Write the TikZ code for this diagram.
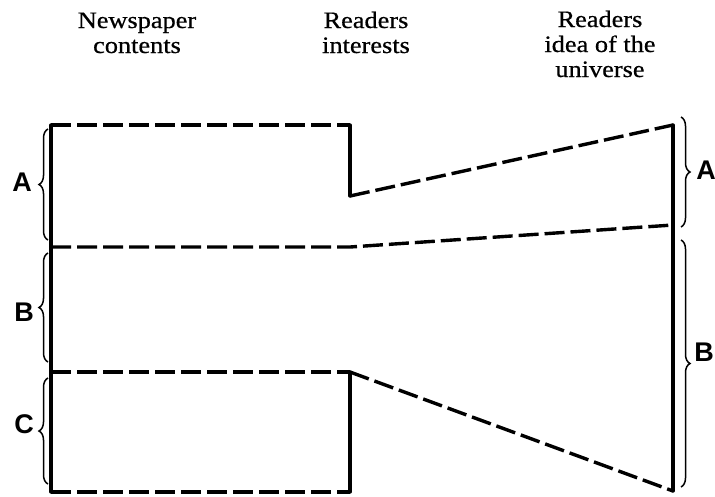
\documentclass[tikz,border=0pt]{standalone}
\usepackage{fontspec}
\usetikzlibrary{decorations.pathreplacing}
\newfontfamily\lettfont{Liberation Sans}
\newfontfamily\hdrfont{Liberation Serif}[FakeStretch=1.12,FakeBold=0.6]
\begin{document}
\begin{tikzpicture}[x=1pt,y=-1pt,
  solidline/.style={line width=3.4pt,line cap=round},
  dashline/.style={line width=3.4pt,dash pattern=on 20pt off 6pt},
  bracestyle/.style={decorate,decoration={brace,amplitude=9pt,aspect=0.5},line width=1.5pt},
  header/.style={anchor=base,inner sep=0pt,font=\hdrfont\fontsize{23.5}{25}\selectfont},
  letter/.style={inner sep=0pt,font=\lettfont\bfseries\fontsize{27}{27}\selectfont}]
\useasboundingbox[fill=white] (0,0) rectangle (715,496);
% corners
\coordinate (L1) at (51,125);
\coordinate (L2) at (51,247);
\coordinate (L3) at (51,372);
\coordinate (L4) at (51,492);
\coordinate (M1) at (350,125);
\coordinate (M1b) at (350,196);
\coordinate (M2) at (350,247);
\coordinate (M3) at (350,372);
\coordinate (M4) at (350,492);
\coordinate (R1) at (673,125);
\coordinate (R2) at (673,225);
\coordinate (R4) at (673,491);
% solid lines
\draw[solidline] (L1) -- (L4);
\draw[solidline] (M1) -- (M1b);
\draw[solidline] (M3) -- (M4);
\draw[solidline] (R1) -- (R4);
% dashed lines
\draw[dashline] (L1) -- (M1);
\draw[dashline] (M1b) -- (R1);
\draw[dashline] (L2) -- (M2) -- (R2);
\draw[dashline] (L3) -- (M3);
\draw[dashline] (M3) -- (R4);
\draw[dashline] (L4) -- (M4);
% braces left
\coordinate (bAl1) at (48,240);
\coordinate (bAl2) at (48,129);
\coordinate (bBl1) at (48,362);
\coordinate (bBl2) at (48,253);
\coordinate (bCl1) at (48,484);
\coordinate (bCl2) at (48,378);
\draw[bracestyle] (bAl1) -- (bAl2);
\draw[bracestyle] (bBl1) -- (bBl2);
\draw[bracestyle] (bCl1) -- (bCl2);
% braces right
\coordinate (bAr1) at (681,117);
\coordinate (bAr2) at (681,227);
\coordinate (bBr1) at (681,240);
\coordinate (bBr2) at (681,487);
\draw[bracestyle] (bAr1) -- (bAr2);
\draw[bracestyle] (bBr1) -- (bBr2);
% letters
\node[letter] (lA) at (22,182) {A};
\node[letter] (lB) at (24,312) {B};
\node[letter] (lC) at (24,424) {C};
\node[letter] (rA) at (706,170) {A};
\node[letter] (rB) at (704,352) {B};
% headers
\node[header] (h1a) at (137,28) {Newspaper};
\node[header] (h1b) at (137,53) {contents};
\node[header] (h2a) at (366,28) {Readers};
\node[header] (h2b) at (366,53) {interests};
\node[header] (h3a) at (600,27) {Readers};
\node[header] (h3b) at (600,52) {idea of the};
\node[header] (h3c) at (600,77) {universe};
\end{tikzpicture}
\end{document}
